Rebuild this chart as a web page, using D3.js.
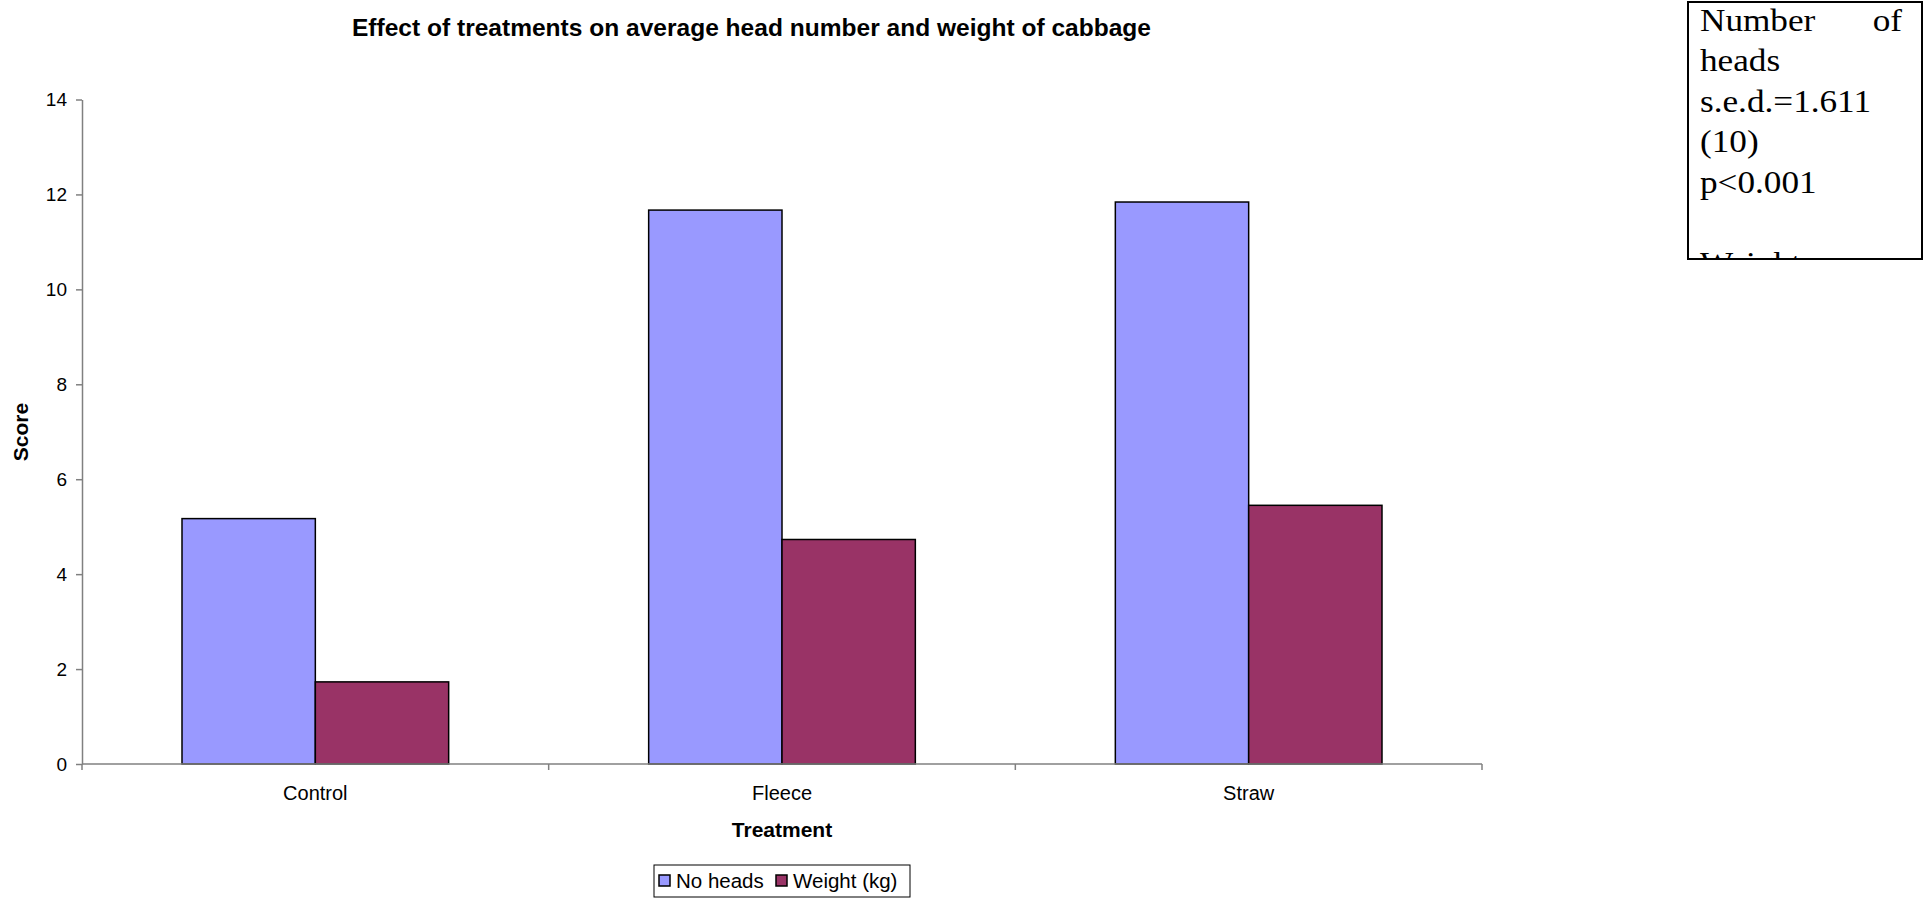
<!DOCTYPE html>
<html>
<head>
<meta charset="utf-8">
<script src="https://cdn.jsdelivr.net/npm/d3@7"></script>
<style>
  html, body { margin: 0; padding: 0; background: #fff; }
  svg { display: block; }
  text { font-family: Arial, "Liberation Sans", sans-serif; fill: #000; }
</style>
</head>
<body>
<svg id="chart" width="1926" height="898"></svg>
<script>
// Cabbage trial: mean head number and head weight per treatment
const treatments = ["Control", "Fleece", "Straw"];
const seriesNames = ["No heads", "Weight (kg)"];
const noHeads = [5.17, 11.67, 11.84];
const weightKg = [1.73, 4.73, 5.45];
const yTicks = [0, 2, 4, 6, 8, 10, 12, 14];
const seriesColors = ["#9999FF", "#993366"];
const noteLines = ["Number of", "heads", "s.e.d.=1.611", "(10)", "p<0.001", "", "Weight"];

const svg = d3.select("#chart");
const plot = { left: 82, right: 1482, top: 99.5, bottom: 764 };

const rows = treatments.map((t, i) => ({ treatment: t, values: [noHeads[i], weightKg[i]] }));

const x = d3.scaleBand().domain(treatments).range([plot.left, plot.right]).paddingInner(0).paddingOuter(0);
// gap width 150% of a bar: two bars + 1.5 bar widths per category
const xs = d3.scaleBand().domain(seriesNames).range([0, x.bandwidth()]).paddingInner(0).paddingOuter(0.75);
const y = d3.scaleLinear().domain([0, 14]).range([plot.bottom, plot.top]);

// Title
svg.append("text")
  .attr("x", 751.5).attr("y", 36)
  .attr("text-anchor", "middle")
  .attr("font-size", 23).attr("font-weight", "bold")
  .attr("textLength", 799).attr("lengthAdjust", "spacingAndGlyphs")
  .text("Effect of treatments on average head number and weight of cabbage");

// Bars
const groups = svg.append("g").selectAll("g").data(rows).join("g")
  .attr("transform", d => `translate(${x(d.treatment)},0)`);
groups.selectAll("rect")
  .data(d => d.values.map((v, j) => ({ series: seriesNames[j], value: v, color: seriesColors[j] })))
  .join("rect")
  .attr("x", d => xs(d.series))
  .attr("y", d => y(d.value))
  .attr("width", xs.bandwidth())
  .attr("height", d => y(0) - y(d.value))
  .attr("fill", d => d.color)
  .attr("stroke", "#000")
  .attr("stroke-width", 1.5);

// Y axis
const yAxis = svg.append("g")
  .attr("transform", `translate(${plot.left},0)`)
  .call(d3.axisLeft(y).tickValues(yTicks).tickSize(6).tickPadding(9).tickSizeOuter(0).tickFormat(d3.format("d")));
yAxis.select(".domain").attr("stroke", "#808080").attr("stroke-width", 1.5);
yAxis.selectAll(".tick line").attr("stroke", "#808080").attr("stroke-width", 1.5);
yAxis.selectAll(".tick text").attr("font-size", 19).attr("font-family", "Arial, 'Liberation Sans', sans-serif").attr("fill", "#000");

// X axis: line, tick marks between categories, labels centred in each band
const xAxis = svg.append("g");
xAxis.append("line")
  .attr("x1", plot.left).attr("x2", plot.right)
  .attr("y1", y(0)).attr("y2", y(0))
  .attr("stroke", "#808080").attr("stroke-width", 1.5);
const boundaries = treatments.map(t => x(t)).concat([x.range()[1]]);
xAxis.selectAll("line.tick").data(boundaries).join("line")
  .attr("class", "tick")
  .attr("x1", d => d).attr("x2", d => d)
  .attr("y1", y(0)).attr("y2", y(0) + 6)
  .attr("stroke", "#808080").attr("stroke-width", 1.5);
xAxis.selectAll("text").data(treatments).join("text")
  .attr("x", d => x(d) + x.bandwidth() / 2)
  .attr("y", 800)
  .attr("text-anchor", "middle")
  .attr("font-size", 20)
  .text(d => d);

// Axis titles
svg.append("text")
  .attr("transform", "translate(28,432) rotate(-90)")
  .attr("text-anchor", "middle")
  .attr("font-size", 21).attr("font-weight", "bold")
  .text("Score");
svg.append("text")
  .attr("x", (plot.left + plot.right) / 2).attr("y", 837)
  .attr("text-anchor", "middle")
  .attr("font-size", 21).attr("font-weight", "bold")
  .text("Treatment");

// Legend
const legend = svg.append("g").attr("transform", "translate(654,865)");
legend.append("rect")
  .attr("width", 256).attr("height", 32)
  .attr("fill", "#fff").attr("stroke", "#000").attr("stroke-width", 1);
const legendX = [5, 122];
const items = legend.selectAll("g.item").data(seriesNames).join("g")
  .attr("class", "item")
  .attr("transform", (d, i) => `translate(${legendX[i]},0)`);
items.append("rect")
  .attr("x", 0).attr("y", 10).attr("width", 11).attr("height", 11)
  .attr("fill", (d, i) => seriesColors[i]).attr("stroke", "#000").attr("stroke-width", 1.5);
items.append("text")
  .attr("x", 17).attr("y", 23)
  .attr("font-size", 20.5)
  .text(d => d);

// Statistics note box; its last line runs past the frame and is clipped
const box = { x: 1688, y: 2, w: 234, h: 257 };
const textLeft = 1700, textRight = 1902, stretch = 1.1;
const defs = svg.append("defs");
defs.append("clipPath").attr("id", "noteClip")
  .append("rect").attr("x", box.x).attr("y", box.y).attr("width", box.w).attr("height", box.h);
svg.append("rect")
  .attr("x", box.x).attr("y", box.y).attr("width", box.w).attr("height", box.h)
  .attr("fill", "#fff");
const noteText = svg.append("g")
  .attr("transform", `translate(${textLeft},0) scale(${stretch},1)`);
noteLines.forEach((line, i) => {
  const by = 31 + i * 40.5;
  const holder = (by + 4 > box.y + box.h)
    ? svg.append("g").attr("clip-path", "url(#noteClip)")
        .append("g").attr("transform", `translate(${textLeft},0) scale(${stretch},1)`)
    : noteText;
  const t = (txt) => holder.append("text")
    .attr("y", by)
    .style("font-family", "'Times New Roman', 'Liberation Serif', serif")
    .style("font-size", "32px")
    .text(txt);
  if (i === 0) {
    // justified first line
    const words = line.split(" ");
    t(words[0]).attr("x", 0);
    t(words[1]).attr("x", (textRight - textLeft) / stretch).attr("text-anchor", "end");
  } else if (line) {
    t(line).attr("x", 0);
  }
});
svg.append("rect")
  .attr("x", box.x).attr("y", box.y).attr("width", box.w).attr("height", box.h)
  .attr("fill", "none").attr("stroke", "#000").attr("stroke-width", 2);
</script>
</body>
</html>
